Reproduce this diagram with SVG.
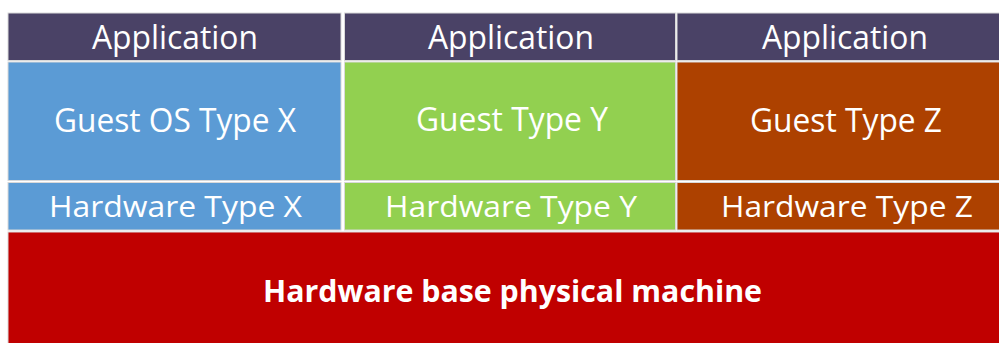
<svg xmlns="http://www.w3.org/2000/svg" width="999" height="343" viewBox="0 0 999 343">
<style>
.box{stroke:#d9d9d9;stroke-width:1}
.app{fill:#4a4266}
.x{fill:#5b9bd5}
.y{fill:#92d050}
.z{fill:#ad4100}
.base{fill:#c00000}
text{font-family:"Open Sans","Liberation Sans",sans-serif;fill:#ffffff;text-anchor:middle}
.t{font-size:32px}
.th{font-size:29px}
.tb{font-size:30px;font-weight:bold}
</style>
<rect width="999" height="343" fill="#ffffff"/>
<g id="app-x"><rect class="box app" x="8" y="13" width="333" height="47.5"/><text class="t" x="175" y="49" textLength="166" lengthAdjust="spacingAndGlyphs">Application</text></g>
<g id="app-y"><rect class="box app" x="344.5" y="13" width="331" height="47.5"/><text class="t" x="511" y="49" textLength="166" lengthAdjust="spacingAndGlyphs">Application</text></g>
<g id="app-z"><rect class="box app" x="677" y="13" width="330" height="47.5"/><text class="t" x="845" y="49" textLength="166" lengthAdjust="spacingAndGlyphs">Application</text></g>
<g id="guest-x"><rect class="box x" x="8" y="62" width="333" height="118.5"/><text class="t" x="175" y="132" textLength="242" lengthAdjust="spacingAndGlyphs">Guest OS Type X</text></g>
<g id="guest-y"><rect class="box y" x="344.5" y="62" width="331" height="118.5"/><text class="t" x="512" y="131" textLength="192" lengthAdjust="spacingAndGlyphs">Guest Type Y</text></g>
<g id="guest-z"><rect class="box z" x="677" y="62" width="330" height="118.5"/><text class="t" x="846" y="132" textLength="192" lengthAdjust="spacingAndGlyphs">Guest Type Z</text></g>
<g id="hw-x"><rect class="box x" x="8" y="182.5" width="333" height="47.5"/><text class="th" x="175.5" y="217" textLength="253" lengthAdjust="spacingAndGlyphs">Hardware Type X</text></g>
<g id="hw-y"><rect class="box y" x="344.5" y="182.5" width="331" height="47.5"/><text class="th" x="511" y="217" textLength="252" lengthAdjust="spacingAndGlyphs">Hardware Type Y</text></g>
<g id="hw-z"><rect class="box z" x="677" y="182.5" width="330" height="47.5"/><text class="th" x="847" y="217" textLength="252" lengthAdjust="spacingAndGlyphs">Hardware Type Z</text></g>
<g id="base"><rect class="box base" x="8" y="232" width="999" height="120"/><text class="tb" x="512.5" y="302" textLength="499" lengthAdjust="spacingAndGlyphs">Hardware base physical machine</text></g>
<g id="connectors"></g>
</svg>
